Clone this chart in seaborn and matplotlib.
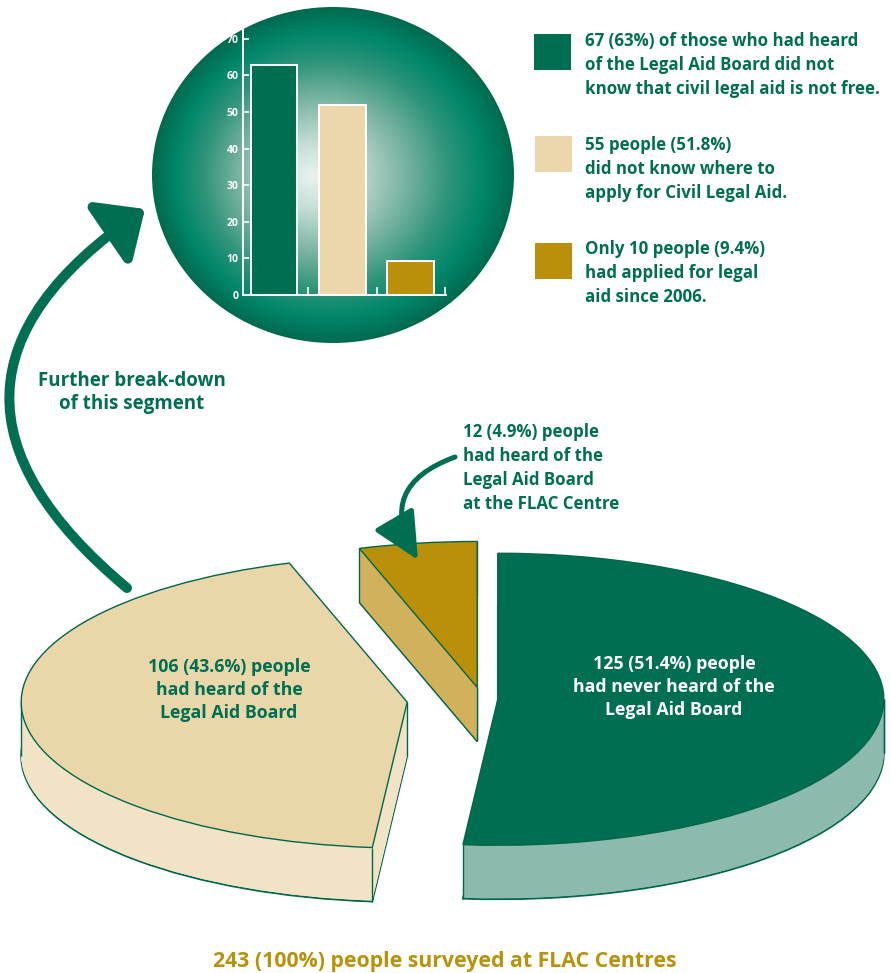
import numpy as np
import matplotlib
matplotlib.use("Agg")
import matplotlib.pyplot as plt
from matplotlib.patches import Ellipse, Rectangle
from matplotlib.colors import LinearSegmentedColormap
import seaborn as sns

# ---------------- data ----------------
bar_categories = ["Did not know civil legal aid is not free",
                  "Did not know where to apply",
                  "Applied since 2006"]
bar_values = [63, 51.8, 9.4]
bar_colors = ["#006F51", "#EBD7AB", "#BA900B"]
bar_yticks = [0, 10, 20, 30, 40, 50, 60, 70]

legend_texts = ["67 (63%) of those who had heard\nof the Legal Aid Board did not\nknow that civil legal aid is not free.",
                "55 people (51.8%)\ndid not know where to\napply for Civil Legal Aid.",
                "Only 10 people (9.4%)\nhad applied for legal\naid since 2006."]

pie_values = [125, 106, 12]
pie_labels = ["125 (51.4%) people\nhad never heard of the\nLegal Aid Board",
              "106 (43.6%) people\nhad heard of the\nLegal Aid Board",
              "12 (4.9%) people\nhad heard of the\nLegal Aid Board\nat the FLAC Centre"]
pie_top_colors = ["#006F51", "#EAD7A9", "#BA900B"]
pie_side_colors = ["#8DBAAE", "#F1E4C6", "#D2B15C"]
pie_explode = [0.041, 0.195, 0.08]

arrow_text = "Further break-down\nof this segment"
title_text = "243 (100%) people surveyed at FLAC Centres"

GREEN = "#006F51"
GOLD_TXT = "#B8920A"
FONT = ["Open Sans", "DejaVu Sans"]

W, H = 891, 973
fig = plt.figure(figsize=(W / 100, H / 100), dpi=100)
fig.patch.set_facecolor("white")


def pixel_axes():
    ax = fig.add_axes([0, 0, 1, 1])
    ax.set_xlim(0, W)
    ax.set_ylim(H, 0)
    ax.axis("off")
    ax.patch.set_alpha(0)
    return ax


# ---------------- gradient disc behind bar chart ----------------
ax_bg = pixel_axes()
ecx, ecy, erx, ery = 333, 175, 181, 168
fx, fy = 312, 176
nx, ny = 420, 400
xs = np.linspace(ecx - erx, ecx + erx, nx)
ys = np.linspace(ecy - ery, ecy + ery, ny)
X, Y = np.meshgrid(xs, ys)
ux, uy = (fx - ecx) / erx, (fy - ecy) / ery
vx, vy = (X - fx) / erx, (Y - fy) / ery
vv = vx * vx + vy * vy + 1e-12
uv = ux * vx + uy * vy
uu = ux * ux + uy * uy
s = (-uv + np.sqrt(np.maximum(uv * uv - vv * (uu - 1), 0))) / vv
t = np.clip(1.0 / s, 0, 1)
cmap = LinearSegmentedColormap.from_list(
    "disc", [(0.0, "#EAF3F0"), (0.2, "#C4DED5"), (0.45, "#7DB5A4"),
             (0.68, "#2F9479"), (0.85, "#00876A"), (1.0, "#006A4E")])
im = ax_bg.imshow(t, cmap=cmap, vmin=0, vmax=1, aspect="auto",
                  extent=(ecx - erx, ecx + erx, ecy + ery, ecy - ery),
                  interpolation="bilinear")
ell = Ellipse((ecx, ecy), 2 * erx, 2 * ery, facecolor="none", edgecolor="none",
              transform=ax_bg.transData)
ax_bg.add_patch(ell)
im.set_clip_path(ell)
ax_bg.set_xlim(0, W)
ax_bg.set_ylim(H, 0)

# ---------------- 3D exploded pie ----------------
ax_pie = fig.add_axes([0, 0, 1, 1])
ax_pie.patch.set_alpha(0)
PCX, PCY, A, B = 482, 699, 386, 146
DEPTH = 54  # px
EDGE = "#00664A"

# bottom layer with outline
ax_pie.pie(pie_values, explode=pie_explode, startangle=90, counterclock=False,
           colors=pie_side_colors, center=(0, -DEPTH / B),
           wedgeprops=dict(edgecolor=EDGE, linewidth=1.3, zorder=1))
for k in range(DEPTH - 1, 0, -1):
    ax_pie.pie(pie_values, explode=pie_explode, startangle=90, counterclock=False,
               colors=pie_side_colors, center=(0, -k / B),
               wedgeprops=dict(edgecolor="none", linewidth=0, zorder=1))
tops, _ = ax_pie.pie(pie_values, explode=pie_explode, startangle=90,
                     counterclock=False, colors=pie_top_colors,
                     wedgeprops=dict(edgecolor=EDGE, linewidth=1.0, zorder=3))
# vertical edges of the slab at the corners / silhouettes
for w in tops:
    cx0, cy0 = w.center
    th = [w.theta1, w.theta2]
    for sil in (0, 180, 360):
        if w.theta1 < sil < w.theta2 or w.theta1 < sil - 360 < w.theta2:
            th.append(sil)
    pts = [(cx0, cy0)] + [(cx0 + w.r * np.cos(np.radians(a)),
                           cy0 + w.r * np.sin(np.radians(a))) for a in th]
    for (px, py) in pts:
        ax_pie.vlines(px, py - DEPTH / B, py, color=EDGE, linewidth=1.0, zorder=2)
ax_pie.set_xlim(-PCX / A, (W - PCX) / A)
ax_pie.set_ylim(-(H - PCY) / B, PCY / B)
ax_pie.set_aspect("auto")
ax_pie.axis("off")

# ---------------- bar chart (seaborn) ----------------
ax_bar = fig.add_axes([243 / W, 1 - 295 / H, 203 / W, 270 / H])
ax_bar.patch.set_alpha(0)
sns.barplot(x=bar_categories, y=bar_values, hue=bar_categories,
            palette=bar_colors, saturation=1, width=0.68, edgecolor="white",
            linewidth=1.4, legend=False, ax=ax_bar)
ax_bar.set_xlim(-0.46, 2.52)
ax_bar.set_ylim(0, 73.8)
for sp in ("top", "right"):
    ax_bar.spines[sp].set_visible(False)
for sp in ("left", "bottom"):
    ax_bar.spines[sp].set_color("white")
    ax_bar.spines[sp].set_linewidth(1.4)
ax_bar.set_yticks(bar_yticks)
ax_bar.set_yticklabels([str(v) for v in bar_yticks], color="white",
                       fontsize=7.5, fontweight="bold", family=FONT)
ax_bar.set_xticks([0.5, 1.5, 2.5])
ax_bar.set_xticklabels([])
ax_bar.tick_params(axis="y", direction="in", length=4, width=1.2, color="white", pad=3)
ax_bar.tick_params(axis="x", direction="in", length=6, width=1.2, color="white")
ax_bar.set_xlabel("")
ax_bar.set_ylabel("")

# ---------------- texts, legend, arrows ----------------
ax_t = pixel_axes()

sq = [(534, 34), (535, 136), (535, 243)]
centers = [65, 169, 273]
for (x0, y0), c, txt, yc in zip(sq, bar_colors, legend_texts, centers):
    ax_t.add_patch(Rectangle((x0, y0), 37, 36, facecolor=c, edgecolor="none"))
    ax_t.text(585, yc, txt, ha="left", va="center", color=GREEN, fontsize=12.2,
              fontweight="bold", family=FONT, linespacing=1.4)

ax_t.text(132, 392, arrow_text, ha="center", va="center", color=GREEN,
          fontsize=13.5, fontweight="bold", family=FONT, linespacing=1.2)
ax_t.text(463, 468, pie_labels[2], ha="left", va="center", color=GREEN,
          fontsize=12.2, fontweight="bold", family=FONT, linespacing=1.43)
ax_t.text(229, 690, pie_labels[1], ha="center", va="center", color=GREEN,
          fontsize=12.8, fontweight="bold", family=FONT, linespacing=1.35)
ax_t.text(674, 687, pie_labels[0], ha="center", va="center", color="white",
          fontsize=12.8, fontweight="bold", family=FONT, linespacing=1.35)
ax_t.text(445, 961, title_text, ha="center", va="center", color=GOLD_TXT,
          fontsize=15.3, fontweight="bold", family=FONT)

ax_t.annotate("", xy=(145, 209), xytext=(127, 588),
              arrowprops=dict(arrowstyle="-|>,head_length=1.0,head_width=0.9",
                              connectionstyle="arc3,rad=-0.66", color=GREEN,
                              lw=7.2, mutation_scale=25, shrinkA=0, shrinkB=0))
ax_t.annotate("", xy=(418, 560), xytext=(455, 457),
              arrowprops=dict(arrowstyle="-|>,head_length=1.45,head_width=0.7",
                              connectionstyle="arc3,rad=0.6", color=GREEN,
                              lw=3.6, mutation_scale=20, shrinkA=0, shrinkB=0))

fig.savefig("out.png", dpi=100, facecolor="white")
